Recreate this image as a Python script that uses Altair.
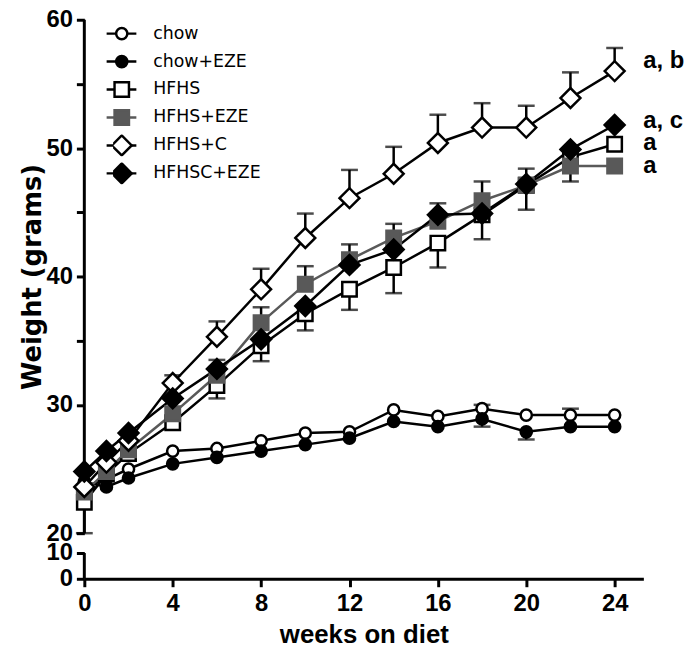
import altair as alt
import pandas as pd

weeks = [0, 1, 2, 4, 6, 8, 10, 12, 14, 16, 18, 20, 22, 24]
groups = ["chow", "chow+EZE", "HFHS", "HFHS+EZE", "HFHS+C", "HFHSC+EZE"]

chow      = [23.6, 24.2, 25.0, 26.4, 26.6, 27.2, 27.8, 27.9, 29.6, 29.1, 29.7, 29.2, 29.2, 29.2]
chow_eze  = [24.0, 23.6, 24.3, 25.4, 25.9, 26.4, 26.9, 27.4, 28.7, 28.3, 28.9, 27.9, 28.3, 28.3]
hfhs      = [22.4, 24.6, 26.2, 28.6, 31.5, 34.6, 37.1, 39.0, 40.7, 42.6, 44.8, 47.1, 49.3, 50.3]
hfhs_eze  = [23.2, 24.8, 26.5, 29.3, 32.3, 36.4, 39.4, 41.3, 43.0, 44.3, 45.9, 47.1, 48.6, 48.6]
hfhs_c    = [23.6, 25.5, 27.2, 31.7, 35.3, 39.0, 43.0, 46.1, 48.0, 50.4, 51.6, 51.6, 53.9, 56.0]
hfhsc_eze = [24.8, 26.4, 27.8, 30.5, 32.8, 35.1, 37.7, 40.9, 42.1, 44.8, 44.9, 47.2, 49.9, 51.8]

# one-sided error bars: group, week, end of bar
err_group = (["chow"] * 2 + ["chow+EZE"] * 2 + ["HFHS"] * 10 + ["HFHS+EZE"] * 8 + ["HFHS+C"] * 11)
err_week = ([18, 22] + [18, 20]
            + [0, 6, 8, 10, 12, 14, 16, 18, 20, 22]
            + [6, 8, 10, 12, 14, 16, 18, 20]
            + [4, 6, 8, 10, 12, 14, 16, 18, 20, 22, 24])
err_end = ([30.0, 29.7] + [28.3, 27.3]
           + [20.0, 30.5, 33.4, 35.8, 37.4, 38.7, 40.7, 42.9, 45.2, 47.4]
           + [33.5, 37.6, 40.8, 42.5, 44.1, 45.7, 47.4, 48.4]
           + [32.3, 36.5, 40.6, 44.9, 48.3, 50.1, 52.6, 53.5, 53.3, 55.9, 57.8])

ann_text = ["a, b", "a, c", "a", "a"]
ann_y = [56.8, 52.1, 50.4, 48.6]
ann_x = [25.3, 25.3, 25.3, 25.3]

# broken y axis: the two drawn pieces of the axis line
axis_seg_from = [20, 0]
axis_seg_to = [60, 10]
axis_seg_x = [0, 0]

x_ticks = [0, 4, 8, 12, 16, 20, 24]
y_ticks = [0, 10, 20, 25, 30, 35, 40, 45, 50, 55, 60]

# marker styling (symbol paths in the unit box, all drawn at one size)
CIRCLE = "M0.8,0A0.8,0.8,0,1,1,-0.8,0A0.8,0.8,0,1,1,0.8,0Z"
SQUARE = "M-1.03,-1.03H1.03V1.03H-1.03Z"
DIAMOND = "M-1.42,0L0,-1.42L1.42,0L0,1.42Z"
fills = ["white", "black", "white", "#595959", "white", "black"]
strokes = ["black", "black", "black", "#595959", "black", "black"]
shapes = [CIRCLE, CIRCLE, SQUARE, SQUARE, DIAMOND, DIAMOND]
line_widths = [2.5, 2.5, 2.5, 1.8, 2.5, 2.5]
MSIZE = 200

# ---- build tables ----
series = [chow, chow_eze, hfhs, hfhs_eze, hfhs_c, hfhsc_eze]
rows = []
for gi, (g, vals) in enumerate(zip(groups, series)):
    for w, v in zip(weeks, vals):
        rows.append({"group": g, "idx": str(gi + 1), "week": w, "weight": v})
df = pd.DataFrame(rows)

edf = pd.DataFrame({"group": err_group, "week": err_week, "end": err_end})
edf = edf.merge(df[["group", "week", "weight"]], on=["group", "week"], how="left")

adf = pd.DataFrame({"text": ann_text, "y": ann_y, "x": ann_x})
sdf = pd.DataFrame({"x": axis_seg_x, "y1": axis_seg_from, "y2": axis_seg_to})

LFONT = "Liberation Sans"
W = 564
H = 564

xs = alt.Scale(domain=[0, 25.3], nice=False, zero=False)
# piecewise y scale: 20-60 in the main part, 0-10 in a short piece below a gap
ys = alt.Scale(domain=[0, 10, 20, 60], range=[H, H - 26, H - 46, 0], nice=False, zero=False)

idx_dom = ["1", "2", "3", "4", "5", "6"]

shape_legend = alt.Legend(title=None, orient="none", legendX=29, legendY=3, clipHeight=22,
                          rowPadding=6.2, padding=0, symbolStrokeWidth=2.5, symbolOpacity=1,
                          symbolSize=MSIZE,
                          labelFont="DejaVu Sans", labelFontSize=17.5, labelColor="black",
                          labelOffset=23)
line_legend = alt.Legend(title=None, orient="none", legendX=21, legendY=3, clipHeight=22,
                         rowPadding=6.2, padding=0, symbolType="stroke", symbolSize=900,
                         labelExpr="''", labelFontSize=17.5, labelOpacity=0)

x_enc = alt.X("week:Q", scale=xs,
              axis=alt.Axis(title="weeks on diet", values=x_ticks, grid=False, domainColor="black",
                            domainWidth=3, tickColor="black", tickWidth=3, tickSize=8,
                            labelFont=LFONT, labelFontSize=24, labelFontWeight="bold",
                            labelColor="black", labelPadding=5, labelFlush=False,
                            titleFont=LFONT, titleFontSize=26, titleFontWeight="bold",
                            titleColor="black", titlePadding=6))
y_axis = alt.Axis(title="Weight (grams)", values=y_ticks,
                  labelExpr="datum.value % 10 == 0 ? datum.label : ''",
                  grid=False, domain=False, tickColor="black",
                  tickWidth=3, tickSize=8, labelFont=LFONT, labelFontSize=24,
                  labelFontWeight="bold", labelColor="black", labelPadding=4, labelOverlap=False,
                  titleFont="DejaVu Sans", titleFontSize=26, titleFontWeight="bold",
                  titleColor="black", titlePadding=1, titleY=259)

axis_lines = alt.Chart(sdf).mark_rule(color="black", strokeWidth=3).encode(
    x=alt.X("x:Q", scale=xs),
    y=alt.Y("y1:Q", scale=ys, axis=y_axis),
    y2="y2:Q",
)
whisk = alt.Chart(edf).mark_rule(color="black", strokeWidth=2.5).encode(
    x=alt.X("week:Q", scale=xs),
    y=alt.Y("weight:Q", scale=ys),
    y2="end:Q",
)
caps = alt.Chart(edf).mark_tick(orient="horizontal", color="black", size=17, thickness=2.5).encode(
    x=alt.X("week:Q", scale=xs),
    y=alt.Y("end:Q", scale=ys),
)
lines = alt.Chart(df).mark_line().encode(
    x=alt.X("week:Q", scale=xs),
    y=alt.Y("weight:Q", scale=ys),
    color=alt.Color("idx:N", scale=alt.Scale(domain=idx_dom, range=strokes), legend=line_legend),
    strokeWidth=alt.StrokeWidth("idx:N", scale=alt.Scale(domain=idx_dom, range=line_widths),
                                legend=line_legend),
    detail="group:N",
    order="week:Q",
)
points = alt.Chart(df).mark_point(filled=True, opacity=1, strokeWidth=2.5, size=MSIZE).encode(
    x=alt.X("week:Q", scale=xs),
    y=alt.Y("weight:Q", scale=ys),
    shape=alt.Shape("group:N", scale=alt.Scale(domain=groups, range=shapes), legend=shape_legend),
    fill=alt.Fill("group:N", scale=alt.Scale(domain=groups, range=fills), legend=shape_legend),
    stroke=alt.Stroke("group:N", scale=alt.Scale(domain=groups, range=strokes), legend=shape_legend),
)
ann = alt.Chart(adf).mark_text(align="left", baseline="middle", font=LFONT, fontSize=24,
                               fontWeight="bold", color="black").encode(
    x=alt.X("x:Q", scale=xs),
    y=alt.Y("y:Q", scale=ys),
    text="text:N",
)

chart = alt.layer(axis_lines, whisk, caps, lines, points, ann).encode(
    x=x_enc,
).properties(width=W, height=H).configure_view(stroke=None).properties(
    padding={"left": 11, "top": -3, "right": 0, "bottom": 0}
)

chart.save("out.html", embed_options={"renderer": "svg", "actions": False})
